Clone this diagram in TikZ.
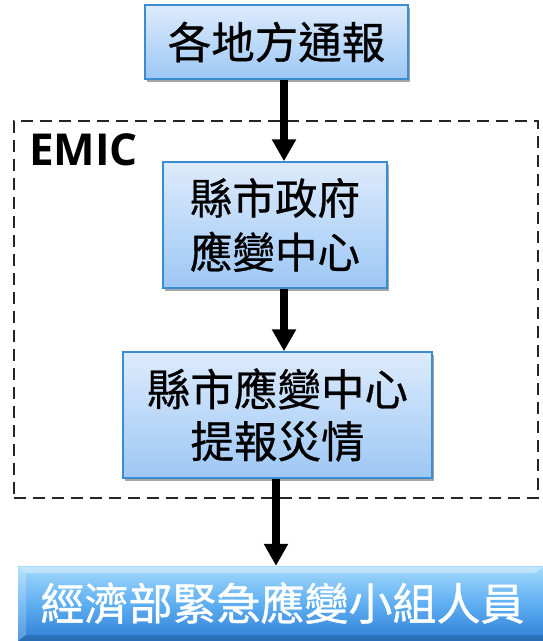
\documentclass[tikz,border=0pt]{standalone}
\usepackage{fontspec}
\newfontfamily\cjk[FakeBold=0.7]{Noto Sans CJK TC}
\newfontfamily\cjkw[FakeBold=1.0]{Noto Sans CJK TC}
\newfontfamily\emicfont{Open Sans}
\usetikzlibrary{arrows.meta,shadows}
\definecolor{boxtop}{HTML}{DDEBFC}
\definecolor{boxbot}{HTML}{9DC7F5}
\definecolor{boxline}{HTML}{3B8DD2}
\definecolor{bigtop}{HTML}{A4DAFB}
\definecolor{bigmid}{HTML}{5EAEF2}
\definecolor{bigbot}{HTML}{2D7DD5}
\tikzset{
  flowbox/.style={draw=boxline, line width=1.5pt, top color=boxtop, bottom color=boxbot,
    drop shadow={shadow xshift=2pt, shadow yshift=-3pt, opacity=0.35, fill=black},
    font=\cjk\fontsize{43.5}{52}\selectfont, align=center, inner sep=0pt},
  bigbox/.style={draw=none, top color=bigtop, bottom color=bigbot, middle color=bigmid, inner sep=0pt},
  flowarrow/.style={line width=8pt, -{Triangle[width=23pt,length=22pt]}},
  groupbox/.style={draw=black!85, line width=1.8pt, dash pattern=on 12pt off 7pt}
}
\begin{document}
\begin{tikzpicture}[x=1pt,y=-1pt]
\useasboundingbox[fill=white] (0,0) rectangle (543,641);
% group box
\node[groupbox, minimum width=524pt, minimum height=377pt, anchor=north west, inner sep=0pt] (grp) at (13,120) {};
\node[anchor=north west, inner sep=0pt, font=\emicfont\bfseries\fontsize{44}{50}\selectfont] (emic) at (29,133) {EMIC};
% boxes
\node[flowbox, minimum width=263pt, minimum height=74pt] (src) at (276.5,42) {各地方通報};
\node[flowbox, minimum width=224pt, minimum height=126pt, font=\cjk\fontsize{42.5}{54}\selectfont] (gov) at (275,225) {縣市政府\\應變中心};
\node[flowbox, minimum width=309pt, minimum height=126pt] (rep) at (277.5,415) {縣市應變中心\\提報災情};
\node[bigbox, minimum width=525pt, minimum height=76pt] (moea) at (280.5,604) {};
\fill[white, opacity=0.35] (18,567) -- (543,567) -- (535,573) -- (26,573) -- cycle;
\fill[white, opacity=0.2] (18,567) -- (26,573) -- (26,635) -- (18,641) -- cycle;
\fill[black, opacity=0.15] (18,641) -- (26,635) -- (543,635) -- (543,641) -- cycle;
\node[font=\cjkw\fontsize{44}{52}\selectfont, text=white, inner sep=0pt] (moeat) at (282.5,603) {經濟部緊急應變小組人員};
% arrows
\draw[flowarrow] (src.south -| 284,0) -- (gov.north -| 284,0);
\draw[flowarrow] (gov.south -| 284,0) -- (rep.north -| 284,0);
\draw[flowarrow] (rep.south -| 276,0) -- (moea.north -| 276,0);
\end{tikzpicture}
\end{document}
